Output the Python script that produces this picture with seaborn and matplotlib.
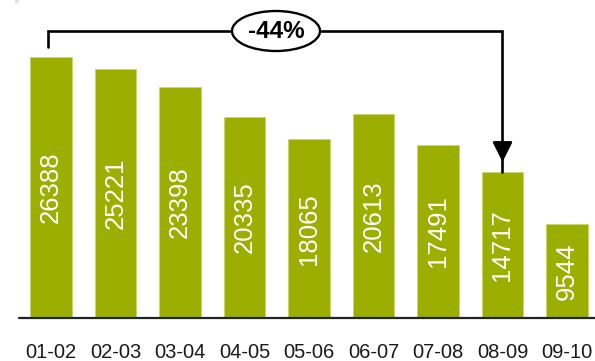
import matplotlib
matplotlib.use("Agg")
import matplotlib.pyplot as plt
import seaborn as sns
import pandas as pd
import numpy as np
from matplotlib.patches import Rectangle, Ellipse

categories = ["01-02", "02-03", "03-04", "04-05", "05-06", "06-07", "07-08", "08-09", "09-10"]
values = [26388, 25221, 23398, 20335, 18065, 20613, 17491, 14717, 9544]
change_label = "-44%"

df = pd.DataFrame({"period": categories, "value": values})

sns.set_theme(style="white")
plt.rcParams["font.family"] = ["Liberation Sans", "DejaVu Sans"]

W, H, DPI = 595, 361, 100
fig = plt.figure(figsize=(W / DPI, H / DPI), dpi=DPI)
fig.patch.set_facecolor("white")

base_px = 318.0
left_px = 19.0
ax = fig.add_axes([left_px / W, (H - base_px) / H, 1 - left_px / W, base_px / H])

color = "#9cae00"
sns.barplot(data=df, x="period", y="value", color=color, saturation=1,
            width=0.65, ax=ax, edgecolor="#c8d66a", linewidth=0.6)

px_per_unit = 261.0 / 26388
ax.set_ylim(0, base_px / px_per_unit)
spacing = 64.5
ax.set_xlim((left_px - 51) / spacing, (W - 51) / spacing)

for s in ax.spines.values():
    s.set_visible(False)
ax.set_yticks([])
ax.set_xlabel("")
ax.set_ylabel("")
ax.tick_params(axis="x", length=0, pad=18, labelsize=14.5, labelcolor="#1a1a1a")

ax.axhline(0, color="#222222", lw=1.6, zorder=5, clip_on=False)

for i, v in enumerate(values):
    ax.text(i, v / 2, str(v), rotation=90, ha="center", va="center",
            color="white", fontsize=18.5)

def ypx(p):
    return (base_px - p) / px_per_unit

# bracket arrow
x0, x1 = -0.04, 7.0
ax.plot([x0, x0, x1, x1], [ypx(47), ypx(31), ypx(31), ypx(172)],
        color="black", lw=1.9, solid_joinstyle="miter", zorder=6, clip_on=False)
ax.annotate("", xy=(x1, ypx(162)), xytext=(x1, ypx(150)),
            arrowprops=dict(arrowstyle="-|>,head_length=1.0,head_width=0.5",
                            color="black", lw=1.9, shrinkA=0, shrinkB=0),
            zorder=7)
ex = (276 - 51) / spacing
ax.add_patch(Ellipse((ex, ypx(31)), 88 / spacing, 40 / px_per_unit,
                     fc="white", ec="black", lw=1.7, zorder=8, clip_on=False))
ax.text(ex, ypx(31.5), change_label, ha="center", va="center",
        fontsize=17.5, fontweight="bold", color="black", zorder=9)

# top shadow
shades = ["#dcdcdc", "#e6e6e6", "#eeeeee", "#f4f4f4", "#f9f9f9"]
for k, c in enumerate(shades):
    fig.add_artist(Rectangle((15 / W, 1 - (k + 1) / H), 1, 1 / H,
                             transform=fig.transFigure, color=c, lw=0, zorder=0))

fig.savefig("out.png", dpi=DPI)
